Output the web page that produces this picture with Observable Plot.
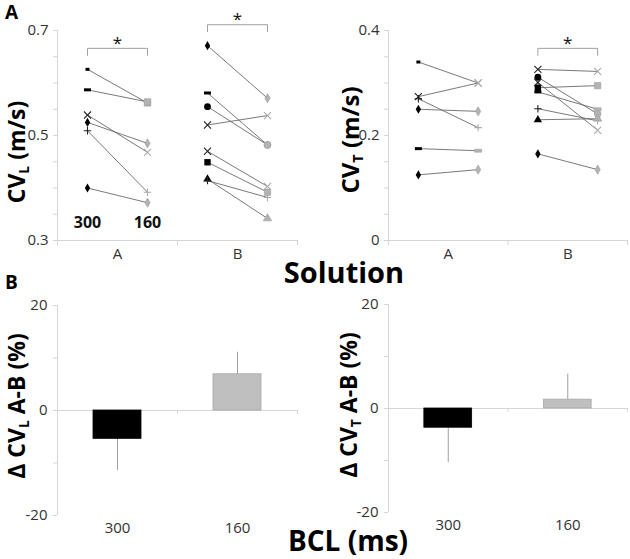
<!DOCTYPE html>
<html><head><meta charset="utf-8">
<script src="https://cdn.jsdelivr.net/npm/d3@7"></script>
<script src="https://cdn.jsdelivr.net/npm/@observablehq/plot@0.6"></script>
<style>
body{margin:0;background:#fff;}
#wrap{position:relative;width:630px;height:559px;overflow:hidden;background:#fff;}
#wrap > svg, #wrap > figure{position:absolute;margin:0;}
#overlay{position:absolute;left:0;top:0;pointer-events:none;}
</style></head>
<body><div id="wrap"></div>
<script>
// ---------- data ----------
const solutions = ["A", "B"];
const bclLabels = ["300", "160"];

// CV_L (m/s)
const cvL_A_shape300 = ["dashS", "dashL", "times", "diamond", "plus", "diamond"];
const cvL_A_300      = [0.626, 0.587, 0.539, 0.525, 0.509, 0.400];
const cvL_A_shape160 = ["square", "square", "times", "diamond", "plus", "diamond"];
const cvL_A_160      = [0.562, 0.564, 0.468, 0.485, 0.392, 0.372];

const cvL_B_shape300 = ["diamond", "dashL", "circle", "times", "times", "square", "triangle", "plus"];
const cvL_B_300      = [0.671, 0.581, 0.555, 0.520, 0.470, 0.449, 0.417, 0.414];
const cvL_B_shape160 = ["diamond", "circle", "circle", "times", "times", "square", "triangle", "plus"];
const cvL_B_160      = [0.571, 0.482, 0.482, 0.538, 0.403, 0.392, 0.342, 0.382];

// CV_T (m/s)
const cvT_A_shape300 = ["dashS", "times", "plus", "diamond", "dashL", "diamond"];
const cvT_A_300      = [0.340, 0.274, 0.270, 0.250, 0.175, 0.125];
const cvT_A_shape160 = ["times", "times", "plus", "diamond", "dashL", "diamond"];
const cvT_A_160      = [0.300, 0.300, 0.215, 0.246, 0.171, 0.135];

const cvT_B_shape300 = ["times", "circle", "times", "square", "dashL", "plus", "triangle", "diamond"];
const cvT_B_300      = [0.326, 0.311, 0.301, 0.291, 0.283, 0.251, 0.230, 0.165];
const cvT_B_shape160 = ["times", "circle", "times", "square", "dashL", "plus", "triangle", "diamond"];
const cvT_B_160      = [0.322, 0.241, 0.210, 0.295, 0.250, 0.228, 0.232, 0.135];

// significance brackets (solutions)
const cvL_sig = ["A", "B"];
const cvT_sig = ["B"];

// axis ticks
const cvL_ticks = [0.3, 0.35, 0.4, 0.45, 0.5, 0.55, 0.6, 0.65, 0.7];
const cvL_tickLabels = [0.3, 0.5, 0.7];
const cvT_ticks = [0, 0.05, 0.1, 0.15, 0.2, 0.25, 0.3, 0.35, 0.4];
const cvT_tickLabels = [0, 0.2, 0.4];
const d_ticks = [-20, -10, 0, 10, 20];
const d_tickLabels = [-20, 0, 20];

// Delta CV A-B (%)
const dCVL = [-5.4, 6.9];
const dCVL_err = [6.0, 4.2];
const dCVT = [-3.7, 1.7];
const dCVT_err = [6.7, 4.9];
const barColors = ["#000000", "#bfbfbf"];

// ---------- helpers ----------
const AX = "#d6d6d6";
const TXT = "#333";
const FS = 15;
const dash = (w, h) => ({draw(ctx) { ctx.rect(-w / 2, -h / 2, w, h); }});
const symbolMap = {
  diamond: d3.symbolDiamond, circle: d3.symbolCircle, square: d3.symbolSquare,
  triangle: d3.symbolTriangle, times: d3.symbolTimes, plus: d3.symbolPlus,
  dashS: dash(4, 3), dashL: dash(7, 3)
};
const shapeR = {diamond: 2.8, circle: 3.4, square: 3.6, triangle: 3.1, times: 3.3, plus: 2.5, dashS: 3, dashL: 3};
const strokeShapes = new Set(["times", "plus"]);

function buildRows(prefix, sol, s300, v300, s160, v160) {
  const si = solutions.indexOf(sol);
  const rows = [];
  v300.forEach((v, i) => {
    rows.push({id: prefix + sol + i, sol, bcl: "300", x: si + (bclLabels.indexOf("300") + 0.5) / 2, v, shape: s300[i]});
    rows.push({id: prefix + sol + i, sol, bcl: "160", x: si + (bclLabels.indexOf("160") + 0.5) / 2, v: v160[i], shape: s160[i]});
  });
  return rows;
}

function dotMarks(rows) {
  const marks = [];
  for (const bcl of bclLabels) {
    const dark = bcl === "300";
    const col = dark ? "#000" : "#b3b3b3";
    for (const shape of Object.keys(symbolMap)) {
      const sub = rows.filter(d => d.bcl === bcl && d.shape === shape);
      if (!sub.length) continue;
      if (strokeShapes.has(shape)) {
        marks.push(Plot.dot(sub, {x: "x", y: "v", symbol: symbolMap[shape], r: shapeR[shape], stroke: dark ? "#222" : "#aaa", fill: "none", strokeWidth: 1.1}));
      } else {
        marks.push(Plot.dot(sub, {x: "x", y: "v", symbol: symbolMap[shape], r: shapeR[shape], fill: col, stroke: dark ? "none" : "#a0a0a0", strokeWidth: 0.6}));
      }
    }
  }
  return marks;
}

function topPlot({rows, yDomain, ticks, tickLabels, sig, width, marginLeft, marginRight, showBclText}) {
  const span = yDomain[1] - yDomain[0];
  const pxPerUnit = 210 / span;
  const gapPx = 21, legPx = 7;
  const brackets = sig.map(sol => {
    const si = solutions.indexOf(sol);
    const top = d3.max(rows.filter(d => d.sol === sol), d => d.v);
    return {sol, si, top};
  });
  const bracketPts = [];
  brackets.forEach(b => {
    const leg = legPx / pxPerUnit;
    bracketPts.push({id: b.sol, x: b.si + 0.25, y: b.top - leg});
    bracketPts.push({id: b.sol, x: b.si + 0.25, y: b.top});
    bracketPts.push({id: b.sol, x: b.si + 0.75, y: b.top});
    bracketPts.push({id: b.sol, x: b.si + 0.75, y: b.top - leg});
  });
  const marks = [
    Plot.axisY({ticks, tickSize: 4, tickFormat: () => "", stroke: AX, label: null}),
    Plot.axisY({ticks: tickLabels, tickSize: 4, tickPadding: 5, tickFormat: d => String(+d.toFixed(2)), stroke: AX, fill: TXT, fontSize: FS, label: null}),
    Plot.ruleX([0], {stroke: AX}),
    Plot.ruleY([yDomain[0]], {stroke: AX}),
    Plot.axisX({ticks: [0, 1, 2], tickSize: 5, tickFormat: () => "", stroke: AX, label: null}),
    Plot.axisX({ticks: solutions.map((s, i) => i + 0.5), tickSize: 0, tickPadding: 8, tickFormat: d => solutions[Math.floor(d)], fill: TXT, fontSize: FS, label: null}),
    Plot.line(rows, {x: "x", y: "v", z: "id", stroke: "#6a6a6a", strokeWidth: 0.9}),
    ...dotMarks(rows),
    Plot.line(bracketPts, {x: "x", y: "y", z: "id", stroke: "#a0a0a0", strokeWidth: 1, dy: -gapPx}),
    Plot.text(brackets, {x: d => d.si + 0.5, y: "top", text: () => "*", dy: -gapPx - 5, fontSize: 17, fill: "#111"})
  ];
  if (showBclText) {
    marks.push(Plot.text(bclLabels, {x: (d, i) => (i + 0.5) / 2, y: () => yDomain[0], text: d => d, dy: -18, fontSize: 16, fontWeight: "bold", fill: "#111"}));
  }
  return Plot.plot({
    width, height: 265, marginLeft, marginRight, marginTop: 30, marginBottom: 25,
    x: {domain: [0, 2]}, y: {domain: yDomain},
    style: {fontFamily: "'Open Sans', sans-serif", background: "transparent", overflow: "visible", color: TXT},
    marks
  });
}

function bottomPlot({vals, errs, width, marginLeft, marginRight, marginTop, marginBottom}) {
  const bars = bclLabels.map((b, i) => ({bcl: b, i, v: vals[i], tip: vals[i] + Math.sign(vals[i]) * errs[i], color: barColors[i]}));
  const tickLen = 4 * 40 / (250 - marginTop - marginBottom);
  return Plot.plot({
    width, height: 250, marginLeft, marginRight, marginTop, marginBottom,
    x: {domain: [0, 2]}, y: {domain: [-20, 20]},
    style: {fontFamily: "'Open Sans', sans-serif", background: "transparent", overflow: "visible", color: TXT},
    marks: [
      Plot.axisY({ticks: d_ticks, tickSize: 4, tickFormat: () => "", stroke: AX, label: null}),
      Plot.axisY({ticks: d_tickLabels, tickSize: 4, tickPadding: 6, tickFormat: d => String(d), stroke: AX, fill: TXT, fontSize: FS, label: null}),
      Plot.ruleX([0], {stroke: AX}),
      Plot.ruleY([0], {stroke: AX}),
      Plot.ruleX([1, 2], {y1: 0, y2: -tickLen, stroke: AX}),
      Plot.ruleX(bars, {x: d => d.i + 0.5, y1: "v", y2: "tip", stroke: "#a0a0a0", strokeWidth: 1}),
      Plot.rectY(bars, {x1: d => d.i + 0.3, x2: d => d.i + 0.7, y: "v", fill: "color", stroke: d => d.i ? "#a8a8a8" : "#000", strokeWidth: 0.8}),
      Plot.axisX({ticks: bclLabels.map((b, i) => i + 0.5), tickSize: 0, tickPadding: 7, tickFormat: d => bclLabels[Math.floor(d)], fill: TXT, fontSize: FS, label: null})
    ]
  });
}

// ---------- build ----------
const wrap = document.getElementById("wrap");
function place(el, left, top) {
  el.style.position = "absolute"; el.style.left = left + "px"; el.style.top = top + "px";
  wrap.appendChild(el);
}

const cvLRows = [
  ...buildRows("L", "A", cvL_A_shape300, cvL_A_300, cvL_A_shape160, cvL_A_160),
  ...buildRows("L", "B", cvL_B_shape300, cvL_B_300, cvL_B_shape160, cvL_B_160)
];
const cvTRows = [
  ...buildRows("T", "A", cvT_A_shape300, cvT_A_300, cvT_A_shape160, cvT_A_160),
  ...buildRows("T", "B", cvT_B_shape300, cvT_B_300, cvT_B_shape160, cvT_B_160)
];

place(topPlot({rows: cvLRows, yDomain: [0.3, 0.7], ticks: cvL_ticks, tickLabels: cvL_tickLabels, sig: cvL_sig, width: 315, marginLeft: 57, marginRight: 18, showBclText: true}), 0, 0);
place(topPlot({rows: cvTRows, yDomain: [0, 0.4], ticks: cvT_ticks, tickLabels: cvT_tickLabels, sig: cvT_sig, width: 315, marginLeft: 73, marginRight: 3, showBclText: false}), 315, 0);
place(bottomPlot({vals: dCVL, errs: dCVL_err, width: 315, marginLeft: 57, marginRight: 18, marginTop: 15, marginBottom: 25}), 0, 290);
place(bottomPlot({vals: dCVT, errs: dCVT_err, width: 315, marginLeft: 73, marginRight: 3, marginTop: 14, marginBottom: 28}), 315, 290);

// ---------- overlay text ----------
const ns = "http://www.w3.org/2000/svg";
const ov = document.createElementNS(ns, "svg");
ov.setAttribute("id", "overlay");
ov.setAttribute("width", 630); ov.setAttribute("height", 559);
ov.setAttribute("font-family", "'Open Sans', sans-serif");
ov.setAttribute("font-weight", "bold");
wrap.appendChild(ov);
function txt(x, y, parts, size, opts = {}) {
  const t = document.createElementNS(ns, "text");
  t.setAttribute("font-size", size);
  t.setAttribute("text-anchor", opts.anchor || "start");
  if (opts.rotate) t.setAttribute("transform", `translate(${x},${y}) rotate(-90)`);
  else { t.setAttribute("x", x); t.setAttribute("y", y); }
  for (const p of parts) {
    const s = document.createElementNS(ns, "tspan");
    s.textContent = p.t;
    if (p.sub) { s.setAttribute("font-size", "60%"); s.setAttribute("baseline-shift", "-28%"); }
    t.appendChild(s);
  }
  ov.appendChild(t);
}
txt(5, 19, [{t: "A"}], 19);
txt(5, 289, [{t: "B"}], 19);
txt(344, 283, [{t: "Solution"}], 29, {anchor: "middle"});
txt(348, 551, [{t: "BCL (ms)"}], 28, {anchor: "middle"});
txt(25, 152, [{t: "CV"}, {t: "L", sub: true}, {t: " (m/s)"}], 23, {anchor: "middle", rotate: true});
txt(359, 140, [{t: "CV"}, {t: "T", sub: true}, {t: " (m/s)"}], 24, {anchor: "middle", rotate: true});
txt(25, 406, [{t: "Δ CV"}, {t: "L", sub: true}, {t: "  A-B (%)"}], 23, {anchor: "middle", rotate: true});
txt(357, 405, [{t: "Δ CV"}, {t: "T", sub: true}, {t: "  A-B (%)"}], 23, {anchor: "middle", rotate: true});
</script>
</body></html>
